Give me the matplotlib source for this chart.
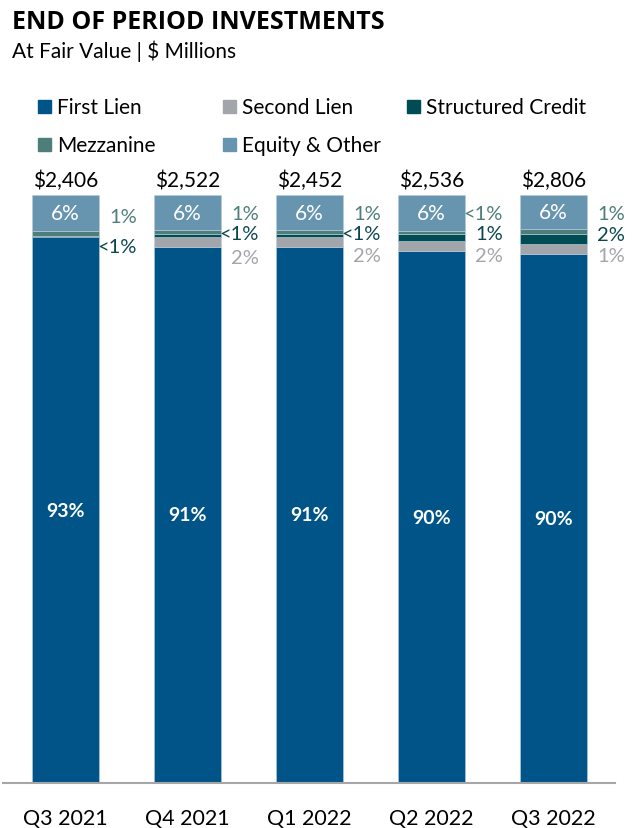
import matplotlib
matplotlib.use('Agg')
import matplotlib.pyplot as plt
from matplotlib.patches import Rectangle

plt.rcParams['font.family'] = ['Lato', 'DejaVu Sans']

quarters = ['Q3 2021', 'Q4 2021', 'Q1 2022', 'Q2 2022', 'Q3 2022']
totals = ['$2,406', '$2,522', '$2,452', '$2,536', '$2,806']

# share of portfolio, %
first_lien = [92.8, 91.2, 91.2, 90.4, 90.0]
second_lien = [0.0, 1.7, 1.7, 1.7, 1.7]
structured = [0.3, 0.4, 0.4, 1.2, 1.6]
mezzanine = [0.8, 0.7, 0.7, 0.5, 1.0]
equity = [6.1, 6.0, 6.0, 6.2, 5.7]

fl_labels = ['93%', '91%', '91%', '90%', '90%']
eq_labels = ['6%', '6%', '6%', '6%', '6%']

# labels written beside each bar, top to bottom: (text, series)
side_labels = [
    [('1%', 'mezz'), ('<1%', 'sc')],
    [('1%', 'mezz'), ('<1%', 'sc'), ('2%', 'sl')],
    [('1%', 'mezz'), ('<1%', 'sc'), ('2%', 'sl')],
    [('<1%', 'mezz'), ('1%', 'sc'), ('2%', 'sl')],
    [('1%', 'mezz'), ('2%', 'sc'), ('1%', 'sl')],
]
side_y = [
    [96.3, 91.2],
    [96.8, 93.4, 89.3],
    [96.8, 93.4, 89.7],
    [96.8, 93.4, 89.7],
    [96.8, 93.3, 89.7],
]

colors = {
    'fl': '#005488',
    'sl': '#A2A5AA',
    'sc': '#004C55',
    'mezz': '#4E7E7A',
    'eq': '#6795AF',
}
label_colors = {'mezz': '#4E7E7A', 'sc': '#0B4650', 'sl': '#A2A5AA'}

fig = plt.figure(figsize=(6.4, 8.29), dpi=100)
W, H = 640.0, 829.0
ax = fig.add_axes([3 / W, (H - 784) / H, 612 / W, (784 - 196) / H])

x = list(range(len(quarters)))
width = 0.553
bottom = [0.0] * len(x)
for key, vals in [('fl', first_lien), ('sl', second_lien), ('sc', structured),
                  ('mezz', mezzanine), ('eq', equity)]:
    ax.bar(x, vals, width, bottom=bottom, color=colors[key],
           edgecolor='#B8CCDD', linewidth=0.4)
    bottom = [b + v for b, v in zip(bottom, vals)]

for i in x:
    ax.text(i, first_lien[i] / 2, fl_labels[i], ha='center', va='center',
            color='white', fontsize=14, fontweight='bold')
    top_eq = 100 - equity[i] / 2
    ax.text(i, top_eq, eq_labels[i], ha='center', va='center',
            color='white', fontsize=15)
    ax.text(i, 101.5, totals[i], ha='center', va='baseline',
            color='black', fontsize=15)
    for (txt, key), yy in zip(side_labels[i], side_y[i]):
        ax.text(i + width / 2 + 0.31, yy, txt, ha='right', va='center',
                color=label_colors[key], fontsize=14.5)

ax.set_xlim(-0.512, 4.504)
ax.set_ylim(0, 100)
ax.set_xticks(x)
ax.set_xticklabels(quarters, fontsize=15.5)
ax.tick_params(axis='x', length=0, pad=18)
ax.set_yticks([])
for s in ['top', 'left', 'right']:
    ax.spines[s].set_visible(False)
ax.spines['bottom'].set_color('#A6A6A6')
ax.spines['bottom'].set_linewidth(1.5)

fig.text(12 / W, 1 - 29 / H, 'END OF PERIOD INVESTMENTS', fontsize=18,
         fontweight='bold', family=['Open Sans', 'DejaVu Sans'],
         va='baseline', ha='left', color='black')
fig.text(12 / W, 1 - 58 / H, 'At Fair Value | $ Millions', fontsize=15,
         va='baseline', ha='left', color='black')

legend_items = [
    ('First Lien', 'fl', 38, 114),
    ('Second Lien', 'sl', 223, 114),
    ('Structured Credit', 'sc', 407, 114),
    ('Mezzanine', 'mezz', 38, 152),
    ('Equity & Other', 'eq', 223, 152),
]
for name, key, px, py in legend_items:
    fig.patches.append(Rectangle((px / W, 1 - py / H), 12.5 / W, 13 / H,
                                 transform=fig.transFigure,
                                 color=colors[key]))
    fig.text((px + 19) / W, 1 - py / H, name, fontsize=15,
             va='baseline', ha='left', color='black')

fig.savefig('out.png', dpi=100)
